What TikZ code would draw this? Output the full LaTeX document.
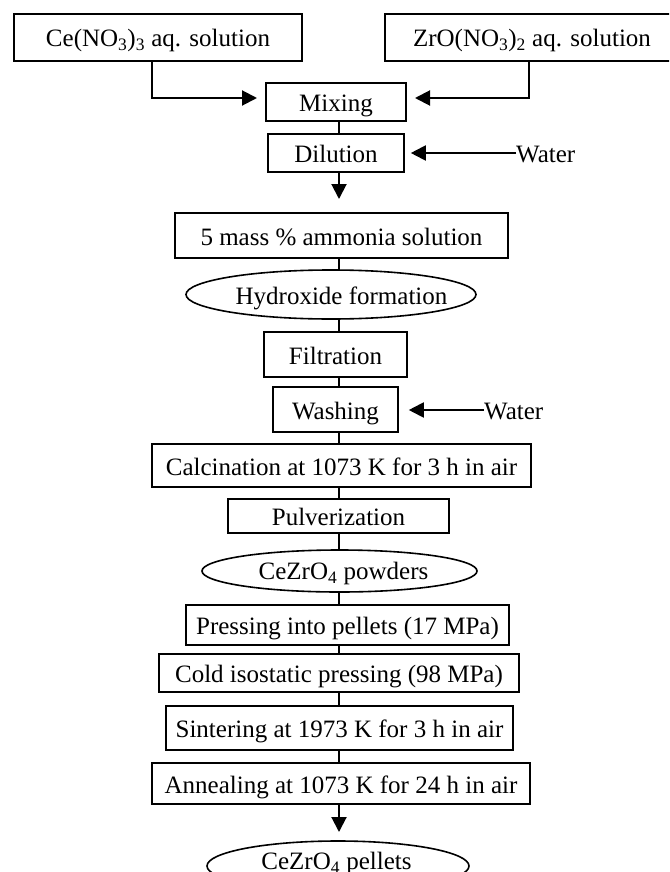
\documentclass[tikz,border=0pt]{standalone}
\usepackage{fontspec}
\setmainfont{Liberation Serif}
\usetikzlibrary{shapes.geometric,arrows.meta}
\begin{document}
\begin{tikzpicture}[x=1pt,y=-1pt,
  font=\fontsize{25}{30}\selectfont,
  box/.style={draw, line width=1.6pt, inner sep=0pt, text height=19pt, text depth=0pt},
  oval/.style={draw, ellipse, line width=1.6pt, inner sep=0pt},
  lbl/.style={inner sep=0pt, text height=19pt, text depth=0pt},
  link/.style={line width=2pt},
  arr/.style={line width=2pt, -{Triangle[length=15pt,width=15pt]}}]
\useasboundingbox (0,0) rectangle (669,872);
\fill[white] (0,0) rectangle (669,872);
\clip (0,0) rectangle (669,872);
\coordinate (X) at (339,0);
\coordinate (ceX) at (152,0);
\coordinate (zrX) at (529,0);
\coordinate (cein) at (257,98);
\coordinate (zrin) at (415,98);
\coordinate (dilend) at (339,199);
\coordinate (annend) at (339,832);

\node[box, minimum width=288pt, minimum height=47pt] (ce) at (158,37.5) {Ce(NO\textsubscript{3})\textsubscript{3} aq. solution};
\node[box, minimum width=294pt, minimum height=47pt] (zr) at (532,37.5) {ZrO(NO\textsubscript{3})\textsubscript{2} aq. solution};
\node[box, minimum width=140pt, minimum height=38pt] (mix) at (336,102) {Mixing};
\node[box, minimum width=136pt, minimum height=38pt] (dil) at (336,153) {Dilution};
\node[lbl, anchor=west] (w1) at (516,153) {Water};
\node[box, minimum width=333pt, minimum height=45pt] (amm) at (341.5,235.5) {5 mass \% ammonia solution};
\node[oval, minimum width=290pt, minimum height=49pt] (hyd) at (331,294.5) {};
\node[lbl] (hydt) at (341.5,294.5) {Hydroxide formation};
\node[box, minimum width=143pt, minimum height=45pt] (fil) at (335.5,354.5) {Filtration};
\node[box, minimum width=125pt, minimum height=45pt] (wash) at (335.5,409.5) {Washing};
\node[lbl, anchor=west] (w2) at (484,410) {Water};
\node[box, minimum width=379pt, minimum height=43pt] (calc) at (341.5,465.5) {Calcination at 1073 K for 3 h in air};
\node[box, minimum width=221pt, minimum height=34pt] (pulv) at (338.5,516) {Pulverization};
\node[oval, minimum width=275pt, minimum height=42pt] (pow) at (339.5,571) {};
\node[lbl] (powt) at (343.5,570) {CeZrO\textsubscript{4} powders};
\node[box, minimum width=323pt, minimum height=40pt] (press) at (347.5,625) {Pressing into pellets (17 MPa)};
\node[box, minimum width=360pt, minimum height=38pt] (cold) at (339,673) {Cold isostatic pressing (98 MPa)};
\node[box, minimum width=347pt, minimum height=44pt] (sint) at (339.5,728) {Sintering at 1973 K for 3 h in air};
\node[box, minimum width=378pt, minimum height=41pt] (ann) at (341,783.5) {Annealing at 1073 K for 24 h in air};
\node[oval, minimum width=262pt, minimum height=50pt] (pel) at (338,866) {};
\node[lbl] (pelt) at (336.5,860) {CeZrO\textsubscript{4} pellets};

\draw[arr] (ce.south -| ceX) |- (cein);
\draw[arr] (zr.south -| zrX) |- (zrin);
\draw[link] (mix.south -| X) -- (dil.north -| X);
\draw[arr, shorten >=6pt] (w1.west) -- (w1.west -| dil.east);
\draw[arr] (dil.south -| X) -- (dilend);
\draw[link] (amm.south -| X) -- (hyd.north -| X);
\draw[link] (hyd.south -| X) -- (fil.north -| X);
\draw[link] (fil.south -| X) -- (wash.north -| X);
\draw[arr, shorten >=10pt] (w2.west) -- (w2.west -| wash.east);
\draw[link] (wash.south -| X) -- (calc.north -| X);
\draw[link] (calc.south -| X) -- (pulv.north -| X);
\draw[link] (pulv.south -| X) -- (pow.north -| X);
\draw[link] (pow.south -| X) -- (press.north -| X);
\draw[link] (press.south -| X) -- (cold.north -| X);
\draw[link] (cold.south -| X) -- (sint.north -| X);
\draw[link] (sint.south -| X) -- (ann.north -| X);
\draw[arr] (ann.south -| X) -- (annend);
\end{tikzpicture}
\end{document}
